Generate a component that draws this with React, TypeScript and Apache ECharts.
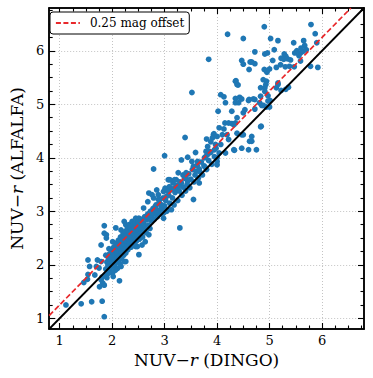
import React, { useEffect, useRef } from "react";
import * as echarts from "echarts";

// NUV-r colours: [DINGO, ALFALFA]
const highPoints: number[][] = [
  [4.20,6.31],[4.50,6.23],[3.84,5.84],[3.52,5.22],[4.47,5.82],[4.50,5.75],[4.63,5.79],[4.61,5.65],[4.36,5.44],[4.40,5.36],[4.07,5.18],[4.13,5.14],[4.35,5.11],[4.43,5.13],[4.47,5.10],[4.60,5.07],[4.16,5.03],[4.35,5.03],
  [4.90,6.45],[5.79,6.49],[5.16,6.19],[5.46,6.15],[5.65,6.19],[5.67,6.10],[5.90,6.15],[5.87,6.32],[5.02,6.23],
  [4.72,5.98],[4.91,5.94],[4.96,5.96],[5.09,6.02],[5.28,5.94],[5.31,5.90],[5.48,5.96],[5.59,5.96],[5.64,5.99],[5.56,5.91],
  [4.66,5.79],[4.72,5.76],[5.06,5.82],[5.22,5.86],[5.27,5.84],[5.34,5.85],[5.40,5.83],[5.21,5.74],[5.13,5.69],[5.30,5.70],[5.38,5.71],[5.47,5.70],[5.59,5.81],[5.78,5.71],[5.92,5.69],
  [4.90,5.65],[4.95,5.60],[5.00,5.66],[4.88,5.46],[4.94,5.43],[4.93,5.37],[4.83,5.31],[5.16,5.40],[5.13,5.31],[4.91,5.24],[5.22,5.26],[5.36,5.32],[4.97,5.16],[4.83,5.15],[4.61,5.09],[4.72,5.09],[5.01,5.07],[4.85,4.98],[4.94,4.95],[5.00,4.95],
  [4.94,5.63],[4.35,5.43],[4.38,5.37],[4.69,5.10],[4.81,5.03],[4.91,5.31],[5.16,5.37],[5.31,5.28],[4.02,4.87],[4.28,4.87],[4.50,4.84],[4.53,4.90],[4.72,4.91],[4.88,4.98],[4.97,5.06],[4.41,5.03],
  [5.70,6.02],[5.60,6.05],[5.52,6.00]
];

const midPoints: number[][] = [
  [4.15,4.65],[4.22,4.65],[4.35,4.65],[4.38,4.75],[4.13,4.54],[3.94,4.45],[3.91,4.37],[4.00,4.40],[4.10,4.43],[4.19,4.43],[4.22,4.34],[4.47,4.43],[4.66,4.40],[4.84,4.59],[4.66,4.31],[3.82,4.21],[3.97,4.25],[4.07,4.25],[3.85,4.12],[4.33,4.14],[4.60,4.15],[3.76,4.00],[4.00,4.00],[4.00,3.87],
  [4.28,4.64],[4.83,4.58],[4.62,4.31],[4.75,4.15],[4.38,4.46],[4.50,4.43],[4.04,4.09],[4.16,4.09],[4.04,4.56],[4.32,4.62],
  [3.88,4.30],[3.80,4.35],[3.95,4.15]
];

const lowerMidPoints: number[][] = [
  [3.39,4.38],[3.93,4.43],[3.00,4.04],[3.44,4.01],[3.59,4.10],[3.79,4.12],[3.32,3.96],[3.52,3.93],[3.63,3.93],[3.82,4.06],[4.00,3.93],[4.32,4.15],[4.47,4.18],[2.79,3.79],[3.55,3.84],[3.60,3.75],[3.66,3.79],[3.77,3.83],[3.26,3.72],[3.35,3.68],[3.41,3.72],[3.41,3.62],[3.22,3.59],[3.07,3.59],[3.16,3.53],[3.32,3.53],[3.44,3.56],[3.09,3.46],[3.18,3.43],[3.26,3.46],[2.85,3.40],[2.98,3.37],[2.88,3.31],[3.04,3.28],[2.91,3.22],[2.79,3.25],[3.55,3.22],[2.82,3.09],[2.94,3.09],[2.85,3.00],[2.98,2.97],[2.98,2.87],
  [3.10,3.59],[3.19,3.59],[3.29,3.55],[2.70,3.34],[2.76,3.31],[3.01,3.43],[3.07,3.37],[3.26,3.40],[2.68,3.18],[2.88,3.22],[2.94,3.12],[2.82,3.06],[2.76,2.97],[2.60,3.06],[3.04,3.00],[3.13,3.03],[3.29,2.69],[3.66,3.53]
];

const lowPoints: number[][] = [
  [1.85,2.73],[2.07,2.69],[1.89,2.56],[1.89,2.50],[1.79,2.37],[2.23,2.81],[2.26,2.75],[2.32,2.75],[2.38,2.81],[2.45,2.87],[2.51,2.87],[2.17,2.65],[2.01,2.43],[2.70,2.56],[2.63,2.43],[2.57,2.37],[2.45,2.34],[2.51,2.19],[2.26,2.06],
  [1.85,2.59],[1.54,2.09],[1.72,2.09],[1.57,1.97],[1.70,1.97],[1.79,2.06],[1.54,1.82],[1.67,1.81],[1.79,1.72],[1.82,1.66],[2.17,1.97],[2.23,2.06],[2.14,1.70],[1.12,1.25],[1.41,1.27],[1.61,1.31],[1.81,1.32],[1.85,1.03],[2.48,2.34],[1.46,1.67],[1.53,1.73],[1.75,1.94],[1.76,1.59],[1.85,1.62],[1.81,1.77]
];

const densePoints: number[][] = [
  [1.88,1.92],[1.90,2.05],[1.92,1.98],[1.93,2.12],[1.95,1.88],[1.95,2.20],[1.96,2.02],[1.97,2.10],[1.98,1.95],[1.98,2.28],[2.00,2.15],[2.00,2.04],[2.01,1.85],[2.02,2.22],[2.03,2.33],[2.04,2.10],[2.05,1.98],[2.05,2.27],[2.06,2.18],[2.07,2.40],
  [2.08,2.05],[2.08,2.30],[2.09,2.14],[2.10,2.22],[2.10,1.93],[2.11,2.36],[2.12,2.08],[2.12,2.46],[2.13,2.26],[2.14,2.17],[2.15,2.32],[2.15,2.02],[2.16,2.52],[2.17,2.40],[2.18,2.23],[2.18,2.12],[2.19,2.35],[2.20,2.45],[2.20,2.28],[2.21,2.58],
  [2.22,2.18],[2.23,2.38],[2.24,2.50],[2.24,2.30],[2.25,2.62],[2.26,2.22],[2.27,2.44],[2.28,2.55],[2.28,2.35],[2.29,2.68],[2.30,2.28],[2.31,2.48],[2.32,2.60],[2.33,2.40],[2.34,2.70],[2.35,2.52],[2.36,2.33],[2.37,2.64],[2.38,2.45],[2.39,2.75],
  [2.40,2.58],[2.41,2.38],[2.42,2.68],[2.43,2.50],[2.44,2.78],[2.45,2.62],[2.46,2.44],[2.47,2.72],[2.48,2.56],[2.50,2.80],[2.50,2.66],[2.52,2.48],[2.53,2.74],[2.55,2.60],[2.56,2.85],[2.57,2.70],[2.58,2.52],[2.60,2.78],[2.61,2.66],[2.62,2.90],
  [2.64,2.72],[2.65,2.60],[2.66,2.84],[2.68,2.95],[2.69,2.74],[2.70,2.88],[2.72,2.68],[2.73,3.00],[2.75,2.82],[2.76,2.92],[2.78,3.05],[2.80,2.85],[2.82,2.96],[2.84,3.12],[2.86,2.90],[2.88,3.02],[2.90,3.15],[2.92,2.95],[2.95,3.05],[2.97,3.25],
  [3.00,3.10],[3.02,3.20],[3.05,3.02],[3.08,3.30],[3.10,3.15],[3.12,3.40],[3.15,3.25],[3.18,3.12],[3.20,3.35],[3.23,3.48],[3.25,3.20],[3.28,3.38],[3.30,3.52],[3.33,3.30],[3.36,3.45],[3.38,3.62],[3.40,3.38],[3.43,3.50],[3.46,3.70],[3.48,3.44],
  [3.50,3.60],[3.53,3.78],[3.56,3.55],[3.58,3.68],[3.62,3.86],[3.64,3.62],[3.67,3.74],[3.70,3.92],[3.72,3.68],[3.75,3.85],[3.78,4.02],[3.80,3.78],[3.84,3.95],[3.88,4.10],[3.90,3.88],[3.95,4.02],[3.98,4.18],
  [1.86,1.80],[1.90,1.76],[1.93,1.84],[1.88,2.18],[1.94,2.30],[2.02,1.78],[2.06,1.90]
];

const majorTicks = [1, 2, 3, 4, 5, 6];
const minorTicks = [1.25, 1.5, 1.75, 2.25, 2.5, 2.75, 3.25, 3.5, 3.75, 4.25, 4.5, 4.75, 5.25, 5.5, 5.75, 6.25, 6.5, 6.75];
const axisMin = 0.8;
const axisMax = 6.8;
const oneToOneLine = [[0.8, 0.8], [6.8, 6.8]];
const offsetLine = [[0.8, 1.05], [6.55, 6.8]];
const offsetLabel = "0.25 mag offset";

const FONT = "'DejaVu Serif', serif";
const RED = "#e8282b";

function makeAxis(position: string, ticks: number[], len: number, main: boolean, extra: any = {}) {
  return {
    type: "value",
    min: axisMin,
    max: axisMax,
    position,
    axisLine: { show: true, onZero: false, lineStyle: { color: "#000", width: 1.5 } },
    axisTick: { show: true, inside: true, length: len, customValues: ticks, lineStyle: { color: "#000", width: 1.1 } },
    axisLabel: main
      ? { show: true, customValues: ticks, fontFamily: FONT, fontSize: 13, color: "#000", margin: 5 }
      : { show: false },
    splitLine: main
      ? { show: true, lineStyle: { color: "#b5b5b5", width: 0.8, type: [1, 2] } }
      : { show: false },
    ...extra,
  };
}

const nameStyle = {
  fontFamily: FONT,
  fontSize: 17,
  color: "#000",
  rich: {
    n: { fontFamily: FONT, fontSize: 17, color: "#000" },
    i: { fontFamily: FONT, fontSize: 17, fontStyle: "italic", color: "#000" },
  },
};

export default function App() {
  const ref = useRef<HTMLDivElement>(null);
  useEffect(() => {
    if (!ref.current) return;
    const chart = echarts.init(ref.current, null, { renderer: "svg" });
    const allPoints = [...lowPoints, ...densePoints, ...lowerMidPoints, ...midPoints, ...highPoints];
    chart.setOption({
      animation: false,
      backgroundColor: "#fff",
      grid: { left: 43, right: 9, top: 8, bottom: 49, containLabel: false },
      legend: {
        data: [offsetLabel],
        left: 50,
        top: 12,
        padding: [5, 5, 5, 5],
        itemWidth: 24,
        itemHeight: 12,
        borderColor: "#000",
        borderWidth: 1,
        borderRadius: 3,
        backgroundColor: "#fff",
        itemStyle: { color: "rgba(0,0,0,0)", borderWidth: 0, opacity: 0 },
        lineStyle: { color: RED, width: 1.8, type: [5, 2.5], opacity: 1 },
        textStyle: { fontFamily: FONT, fontSize: 12, color: "#000", padding: [0, 0, 0, 5] },
      },
      xAxis: [
        makeAxis("bottom", majorTicks, 6, true, {
          name: "{n|NUV−}{i|r}{n| (DINGO)}",
          nameLocation: "middle",
          nameGap: 22,
          nameTextStyle: nameStyle,
        }),
        makeAxis("bottom", minorTicks, 3.5, false),
        makeAxis("top", majorTicks, 6, false),
        makeAxis("top", minorTicks, 3.5, false),
      ],
      yAxis: [
        makeAxis("left", majorTicks, 6, true, {
          name: "{n|NUV−}{i|r}{n| (ALFALFA)}",
          nameLocation: "middle",
          nameGap: 22,
          nameTextStyle: nameStyle,
        }),
        makeAxis("left", minorTicks, 3.5, false),
        makeAxis("right", majorTicks, 6, false),
        makeAxis("right", minorTicks, 3.5, false),
      ],
      series: [
        {
          name: "data",
          type: "scatter",
          data: allPoints,
          symbolSize: 5.8,
          itemStyle: { color: "#1f77b4", opacity: 1 },
          z: 2,
        },
        {
          name: "one-to-one",
          type: "line",
          data: oneToOneLine,
          symbol: "none",
          lineStyle: { color: "#000", width: 1.8 },
          z: 3,
        },
        {
          name: offsetLabel,
          type: "line",
          data: offsetLine,
          symbol: "none",
          itemStyle: { color: RED },
          lineStyle: { color: RED, width: 1.7, type: [5.5, 2.6] },
          z: 4,
        },
      ],
    });
    return () => chart.dispose();
  }, []);
  return <div ref={ref} style={{ width: 373, height: 378, position: "absolute", left: 0, top: 0 }} />;
}
